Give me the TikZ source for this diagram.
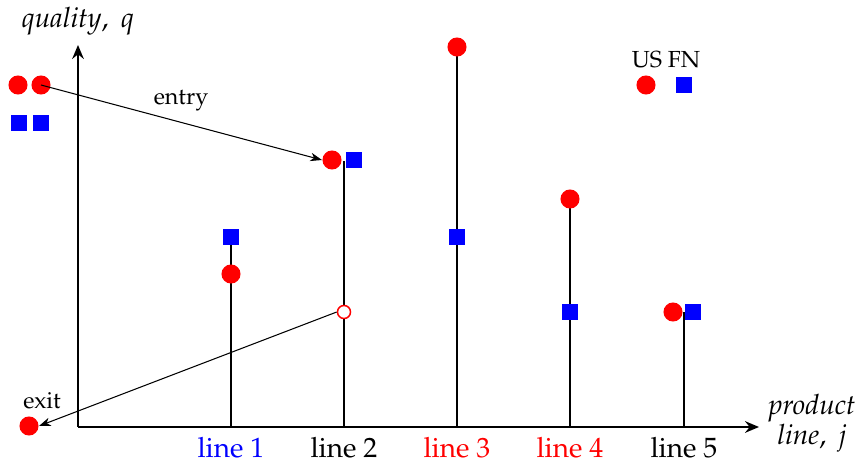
\documentclass[tikz,border=0pt]{standalone}
\usepackage[T1]{fontenc}
\usepackage{mathpazo}
\usetikzlibrary{arrows.meta}
\definecolor{usred}{RGB}{255,0,0}
\definecolor{fnblue}{RGB}{0,0,255}
\begin{document}
\begin{tikzpicture}[x=0.43pt,y=-0.43pt,
  us/.style={circle,fill=usred,inner sep=0pt,minimum size=8.2pt},
  fn/.style={rectangle,fill=fnblue,inner sep=0pt,minimum size=6.7pt},
  gone/.style={circle,draw=usred,line width=0.65pt,inner sep=0pt,minimum size=5.6pt},
  axis/.style={line width=0.9pt,-{Stealth[length=6pt,width=5pt,inset=2pt]}},
  stem/.style={line width=0.85pt},
  move/.style={line width=0.45pt,-{Stealth[length=5pt,width=3.6pt,inset=1.5pt]}},
  lbl/.style={anchor=base,inner sep=0pt,font=\fontsize{10}{12}\selectfont},
  biglbl/.style={anchor=base,inner sep=0pt,font=\fontsize{12}{14}\selectfont}]
\useasboundingbox (0,0) rectangle (855,463);

% axes
\coordinate (O) at (78,427);
\coordinate (ytip) at (78,45);
\coordinate (xtip) at (759,427);
\draw[axis] (O) -- (ytip);
\draw[axis] (O) -- (xtip);
\node[biglbl] (ylab) at (78,28) {\textit{quality},\hspace{0.45em}\textit{q}};
\node[biglbl] (xlab1) at (812,415) {\textit{product}};
\node[biglbl] (xlab2) at (812,445) {\textit{line},\hspace{0.45em}\textit{j}};

% foot of each product line on the axis
\coordinate (b1) at (231,427);
\coordinate (b2) at (344,427);
\coordinate (b3) at (457,427);
\coordinate (b4) at (570,427);
\coordinate (b5) at (684,427);

% stems
\coordinate (t2) at (344,161);
\draw[stem] (b1) -- (231,237);
\draw[stem] (b2) -- (t2);
\draw[stem] (b3) -- (457,47);
\draw[stem] (b4) -- (570,199);
\draw[stem] (b5) -- (684,312);

% line 1
\node[fn] (f1) at (231,237) {};
\node[us] (u1) at (231,274) {};
% line 2
\node[us] (u2) at (332,160) {};
\node[fn] (f2) at (354,160) {};
\node[gone,fill=white] (old2) at (344,312) {};
% line 3
\node[us] (u3) at (457,47) {};
\node[fn] (f3) at (457,237) {};
% line 4
\node[us] (u4) at (570,199) {};
\node[fn] (f4) at (570,312) {};
% line 5
\node[us] (u5) at (673,312) {};
\node[fn] (f5) at (693,312) {};

% legend
\node[lbl] (leg) at (666,68) {US FN};
\node[us] (legu) at (646,85) {};
\node[fn] (legf) at (684,85) {};

% entrants waiting outside
\node[us] (eu1) at (18,85) {};
\node[us] (eu2) at (41,85) {};
\node[fn] (ef1) at (19,123) {};
\node[fn] (ef2) at (41,123) {};

% exited firm
\node[us] (xu) at (29,426) {};
\node[lbl] (exitlbl) at (42,409) {exit};

% entry and exit moves
\draw[move] (eu2.center) -- (u2.west);
\node[lbl] (entrylbl) at (181,105) {entry};
\draw[move] (old2.west) -- (xu.east);

% product line labels
\node[biglbl,text=fnblue] (l1) at (231,458) {line 1};
\node[biglbl] (l2) at (344,458) {line 2};
\node[biglbl,text=usred] (l3) at (457,458) {line 3};
\node[biglbl,text=usred] (l4) at (570,458) {line 4};
\node[biglbl] (l5) at (684,458) {line 5};
\end{tikzpicture}
\end{document}
